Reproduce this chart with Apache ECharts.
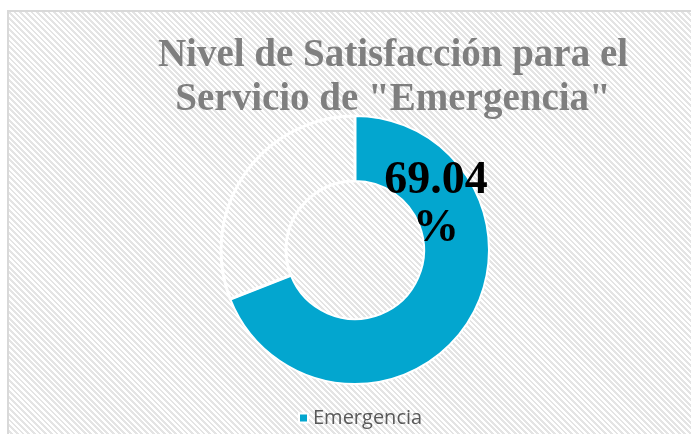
<!DOCTYPE html>
<html>
<head>
<meta charset="utf-8">
<script src="https://cdn.jsdelivr.net/npm/echarts@6/dist/echarts.min.js"></script>
<style>
  html, body { margin: 0; padding: 0; background: #fff; overflow: hidden; }
  #bg {
    position: absolute; left: 7px; top: 10px; width: 700px; height: 440px;
    border-left: 2px solid #d9d9d9; border-top: 2px solid #d9d9d9;
    background: repeating-linear-gradient(45deg, #ffffff 0 2px, #e4e4e4 2px 4px);
  }
  #main { position: absolute; left: 0; top: 0; width: 691px; height: 434px; }
</style>
</head>
<body>
<div id="bg"></div>
<div id="main"></div>
<script>
var categories = ['Emergencia', 'Otros'];
var values = [69.04, 30.96];
var titleText = 'Nivel de Satisfacción para el\nServicio de "Emergencia"';

var myChart = echarts.init(document.getElementById('main'));
var option = {
    backgroundColor: 'transparent',
    title: { //título centrado sobre el gráfico
        text: titleText,
        left: 388,
        top: 29,
        textAlign: 'center',
        textStyle: {
            color: '#7f7f7f',
            fontFamily: 'Liberation Serif',
            fontWeight: 'bold',
            fontSize: 39,
            lineHeight: 44
        }
    },
    legend: {
        data: ['Emergencia'],
        left: 293,
        top: 403,
        icon: 'rect',
        itemWidth: 9,
        itemHeight: 9,
        itemGap: 6,
        textStyle: {
            color: '#595959',
            fontFamily: 'Open Sans',
            fontSize: 20
        }
    },
    graphic: [{ //etiqueta del porcentaje
        type: 'text',
        x: 436,
        y: 157,
        z: 100,
        style: {
            text: values[0].toFixed(2) + '\n%',
            fill: '#000',
            font: 'bold 46px "Liberation Serif"',
            align: 'center',
            verticalAlign: 'top',
            lineHeight: 48
        }
    }],
    series: [{
        type: 'pie',
        center: [355, 250],
        radius: [69, 134],
        startAngle: 90,
        clockwise: true,
        silent: true,
        z: 2,
        label: { show: false },
        labelLine: { show: false },
        data: [{
            name: categories[0],
            value: values[0],
            itemStyle: { color: '#03a6cf', borderColor: '#ffffff', borderWidth: 2 }
        }, {
            name: categories[1],
            value: values[1],
            itemStyle: { color: 'rgba(255,255,255,0)', borderColor: '#ffffff', borderWidth: 3 }
        }]
    }]
};
myChart.setOption(option);
</script>
</body>
</html>
